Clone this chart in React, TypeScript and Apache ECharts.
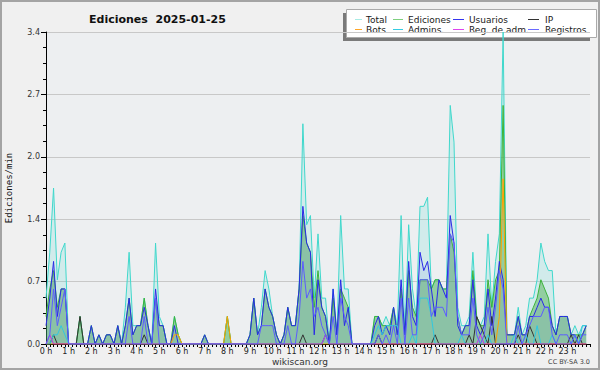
import React, { useEffect, useRef } from 'react';
import * as echarts from 'echarts';

// 10-minute buckets, edits per minute (144 points over 24 h)
const total = [
  0.5, 1.0, 1.7, 0.7, 1.0, 1.1,
  0, 0, 0, 0.3, 0, 0,
  0.2, 0, 0.1, 0, 0.1, 0.1,
  0, 0.2, 0, 0.4, 1.0, 0.2,
  0.2, 0.2, 0.5, 0.2, 0, 1.1,
  0.3, 0.2, 0, 0, 0.3, 0.1,
  0, 0, 0, 0, 0, 0,
  0.1, 0, 0, 0, 0, 0,
  0.3, 0, 0, 0, 0, 0,
  0.1, 0.5, 0.1, 0.4, 0.8, 0.6,
  0.3, 0.1, 0, 0.1, 0.4, 0.2,
  0.2, 0.6, 2.4, 1.3, 1.4, 0.5,
  1.2, 0.5, 0.5, 0, 0.6, 0.1,
  1.4, 0.6, 0.6, 0, 0, 0,
  0, 0, 0, 0.3, 0.3, 0.2,
  0.3, 0.2, 0.4, 0.2, 1.4, 0.1,
  1.3, 0.6, 0.3, 1.5, 1.5, 1.6,
  0.6, 0.7, 0.7, 0.6, 0.6, 2.6,
  2.2, 0.4, 0.2, 0.2, 0.3, 1.0,
  0.3, 0.2, 0.3, 1.2, 0.4, 0.9,
  1.2, 3.4, 0.1, 0.1, 0.1, 0.4,
  0.1, 0.2, 0.5, 0.5, 0.7, 1.1,
  0.9, 0.8, 0.8, 0.1, 0.3, 0.3,
  0.3, 0.1, 0.2, 0.1, 0.2, 0.2,
];
const ediciones = [
  0.3, 0.6, 0.8, 0.4, 0.6, 0.6,
  0, 0, 0, 0.3, 0, 0,
  0.2, 0, 0.1, 0, 0.1, 0.1,
  0, 0.2, 0, 0.2, 0.5, 0.1,
  0.2, 0.2, 0.5, 0.2, 0, 0.5,
  0.2, 0.2, 0, 0, 0.3, 0.1,
  0, 0, 0, 0, 0, 0,
  0.1, 0, 0, 0, 0, 0,
  0.3, 0, 0, 0, 0, 0,
  0.1, 0.5, 0.1, 0.2, 0.6, 0.4,
  0.3, 0.1, 0, 0.1, 0.4, 0.2,
  0.2, 0.6, 1.4, 1.1, 1.0, 0.4,
  0.8, 0.4, 0.3, 0, 0.5, 0.1,
  0.6, 0.5, 0.4, 0, 0, 0,
  0, 0, 0, 0.3, 0.3, 0.2,
  0.2, 0.2, 0.4, 0.1, 0.6, 0.1,
  0.8, 0.4, 0.3, 0.7, 0.7, 0.7,
  0.6, 0.7, 0.7, 0.6, 0.6, 1.2,
  1.0, 0.3, 0.1, 0.2, 0.2, 0.8,
  0.3, 0.2, 0.2, 0.7, 0.4, 0.7,
  0.8, 2.6, 0.1, 0.1, 0.1, 0.3,
  0.1, 0.1, 0.3, 0.4, 0.5, 0.7,
  0.6, 0.5, 0.2, 0.1, 0.3, 0.3,
  0.3, 0.1, 0.1, 0.1, 0.1, 0.2,
];
const usuarios = [
  0.2, 0.5, 0.9, 0.3, 0.6, 0.6,
  0, 0, 0, 0, 0, 0,
  0.2, 0, 0.1, 0, 0.1, 0.1,
  0, 0.2, 0, 0.2, 0.5, 0.1,
  0.2, 0.2, 0.4, 0.2, 0, 0.6,
  0.2, 0.2, 0, 0, 0.2, 0,
  0, 0, 0, 0, 0, 0,
  0.1, 0, 0, 0, 0, 0,
  0, 0, 0, 0, 0, 0,
  0.1, 0.5, 0.1, 0.2, 0.6, 0.4,
  0.3, 0.1, 0, 0.1, 0.4, 0.2,
  0.2, 0.6, 1.5, 1.1, 1.0, 0.1,
  0.7, 0.4, 0.3, 0, 0.6, 0.1,
  0.7, 0.2, 0.4, 0, 0, 0,
  0, 0, 0, 0.2, 0.3, 0.1,
  0.2, 0.1, 0.4, 0.1, 0.7, 0.1,
  0.9, 0.3, 0.2, 1.0, 0.8, 0.9,
  0.6, 0.3, 0.7, 0.6, 0.5, 1.4,
  1.1, 0.2, 0.1, 0.2, 0.2, 0.7,
  0.2, 0.1, 0.2, 0.6, 0.2, 0.5,
  0.9, 0.7, 0.1, 0.1, 0.1, 0.3,
  0.1, 0.1, 0.3, 0.3, 0.4, 0.5,
  0.4, 0.4, 0.2, 0.1, 0.3, 0.3,
  0.3, 0.1, 0.1, 0, 0.1, 0.2,
];
const ip = [
  0, 0, 0.1, 0, 0, 0,
  0, 0, 0, 0.3, 0, 0,
  0, 0, 0, 0, 0, 0,
  0, 0, 0, 0, 0, 0,
  0, 0, 0.1, 0, 0, 0,
  0, 0, 0, 0, 0, 0,
  0, 0, 0, 0, 0, 0,
  0, 0, 0, 0, 0, 0,
  0, 0, 0, 0, 0, 0,
  0, 0, 0, 0, 0, 0,
  0, 0, 0, 0, 0, 0,
  0, 0, 0.1, 0, 0, 0,
  0, 0, 0.1, 0, 0, 0,
  0, 0, 0, 0, 0, 0,
  0, 0, 0, 0, 0.1, 0,
  0, 0, 0, 0, 0, 0,
  0, 0, 0, 0, 0, 0,
  0, 0.1, 0, 0, 0, 0,
  0, 0, 0, 0, 0.1, 0,
  0.3, 0.2, 0.1, 0, 0.3, 0,
  0, 0, 0, 0, 0, 0.1,
  0, 0, 0.2, 0.1, 0, 0,
  0, 0, 0, 0, 0, 0,
  0, 0.1, 0, 0.1, 0, 0,
];
const bots = [
  0, 0, 0, 0, 0, 0,
  0, 0, 0, 0, 0, 0,
  0, 0, 0, 0, 0, 0,
  0, 0, 0, 0, 0, 0,
  0, 0, 0, 0, 0, 0,
  0, 0, 0, 0, 0.1, 0.1,
  0, 0, 0, 0, 0, 0,
  0, 0, 0, 0, 0, 0,
  0.3, 0, 0, 0, 0, 0,
  0, 0, 0, 0, 0, 0,
  0, 0, 0, 0, 0, 0,
  0, 0, 0, 0, 0, 0,
  0, 0, 0, 0, 0, 0,
  0, 0, 0, 0, 0, 0,
  0, 0, 0, 0, 0, 0,
  0, 0, 0, 0, 0, 0,
  0, 0, 0, 0, 0, 0,
  0, 0, 0, 0, 0, 0,
  0, 0, 0, 0, 0, 0,
  0, 0, 0, 0, 0, 0,
  0.3, 1.8, 0, 0, 0, 0,
  0, 0, 0, 0, 0, 0,
  0, 0, 0, 0, 0, 0,
  0, 0, 0, 0, 0, 0,
];
const admins = [
  0, 0, 0.1, 0.1, 0.2, 0.1,
  0, 0, 0, 0, 0, 0,
  0, 0, 0, 0, 0, 0,
  0, 0, 0, 0, 0, 0,
  0, 0, 0, 0, 0, 0,
  0, 0, 0, 0, 0, 0,
  0, 0, 0, 0, 0, 0,
  0, 0, 0, 0, 0, 0,
  0, 0, 0, 0, 0, 0,
  0, 0, 0, 0, 0, 0,
  0, 0, 0, 0, 0, 0,
  0, 0, 0, 0, 0, 0,
  0, 0, 0.1, 0, 0, 0,
  0, 0, 0, 0, 0, 0,
  0, 0, 0, 0.1, 0.2, 0.1,
  0.2, 0.2, 0.2, 0.2, 0, 0,
  0, 0.1, 0, 0.5, 0.5, 0.5,
  0.3, 0, 0, 0, 0, 0,
  0, 0, 0.1, 0, 0, 0,
  0, 0, 0, 0.1, 0, 0,
  0, 0, 0, 0, 0.1, 0,
  0, 0.1, 0, 0, 0.2, 0,
  0, 0, 0.1, 0, 0, 0,
  0, 0, 0.1, 0, 0.2, 0.2,
];
const regAdm = [
  0, 0.1, 0, 0, 0, 0,
  0, 0, 0, 0, 0, 0,
  0, 0, 0, 0, 0, 0,
  0, 0, 0, 0, 0, 0,
  0, 0, 0, 0, 0, 0,
  0, 0, 0, 0, 0, 0,
  0, 0, 0, 0, 0, 0,
  0, 0, 0, 0, 0, 0,
  0, 0, 0, 0, 0, 0,
  0, 0, 0, 0, 0, 0,
  0, 0, 0, 0, 0, 0,
  0, 0, 0, 0, 0, 0,
  0, 0, 0.1, 0, 0, 0,
  0, 0, 0, 0, 0, 0,
  0, 0, 0, 0, 0, 0,
  0, 0, 0, 0, 0, 0,
  0, 0, 0, 0, 0, 0,
  0, 0, 0, 0, 0, 0,
  0, 0, 0, 0, 0, 0,
  0, 0.1, 0, 0, 0, 0,
  0, 0, 0, 0, 0, 0,
  0, 0, 0, 0, 0, 0,
  0, 0, 0, 0, 0, 0,
  0, 0, 0, 0, 0, 0,
];
const registros = [
  0, 0.1, 0.6, 0.2, 0.4, 0.6,
  0, 0, 0, 0, 0, 0,
  0, 0, 0, 0, 0, 0,
  0, 0, 0, 0, 0.3, 0,
  0, 0, 0.3, 0, 0, 0.5,
  0, 0, 0, 0, 0, 0,
  0, 0, 0, 0, 0, 0,
  0, 0, 0, 0, 0, 0,
  0, 0, 0, 0, 0, 0,
  0, 0, 0, 0.2, 0.2, 0.2,
  0.2, 0, 0, 0, 0.2, 0,
  0, 0.3, 0.9, 0.5, 0.6, 0.3,
  0.4, 0.2, 0.1, 0, 0.3, 0,
  0.5, 0.3, 0.2, 0, 0, 0,
  0, 0, 0, 0, 0.1, 0,
  0.1, 0, 0.2, 0, 0.5, 0,
  0.5, 0.1, 0.1, 0.7, 0.7, 0.7,
  0.3, 0.4, 0.4, 0.4, 0.3, 1.2,
  1.1, 0.3, 0.1, 0.1, 0.1, 0.5,
  0.1, 0, 0.1, 0.4, 0.1, 0.4,
  0.8, 0.6, 0, 0, 0, 0.2,
  0, 0.1, 0.2, 0.3, 0.3, 0.3,
  0.4, 0.4, 0.1, 0, 0.1, 0.1,
  0.1, 0, 0.1, 0, 0.1, 0.1,
];

const legendRows = [
  ['Total', 'Ediciones', 'Usuarios', 'IP'],
  ['Bots', 'Admins.', 'Reg. de adm.', 'Registros'],
];
const legendColors: Record<string, string> = {
  'Total': '#a8ebe4',
  'Ediciones': '#7fd07f',
  'Usuarios': '#3535ee',
  'IP': '#333333',
  'Bots': '#ffa628',
  'Admins.': '#34cce2',
  'Reg. de adm.': '#dd44ee',
  'Registros': '#6a6aff',
};

const toPts = (arr: number[]) => arr.map((v, i) => [i / 6, v]);

export default function App() {
  const ref = useRef<HTMLDivElement>(null);
  useEffect(() => {
    document.body.style.margin = '0';
    if (!ref.current) return;
    const chart = echarts.init(ref.current, undefined, { renderer: 'svg' });
    const font = 'DejaVu Sans';
    const iconX = [355, 393, 453, 528];
    const iconW = [7, 10, 11, 11];
    const textX = [366, 408, 469, 545];
    const rowY = [19.5, 29.5];
    const legendEls: any[] = [
      { type: 'rect', shape: { x: 343, y: 13, width: 247, height: 28 }, style: { fill: '#7a7a7a' }, silent: true },
      { type: 'rect', shape: { x: 346.5, y: 9.5, width: 250, height: 28 }, style: { fill: '#ffffff', stroke: '#aaaaaa', lineWidth: 1 }, silent: true },
    ];
    legendRows.forEach((row, r) => {
      row.forEach((name, c) => {
        legendEls.push({
          type: 'line',
          shape: { x1: iconX[c], y1: rowY[r], x2: iconX[c] + iconW[c], y2: rowY[r] },
          style: { stroke: legendColors[name], lineWidth: 1 },
          silent: true,
        });
        legendEls.push({
          type: 'text',
          x: textX[c],
          y: rowY[r],
          style: { text: name, fontFamily: font, fontSize: 9, fill: '#1a1a1a', verticalAlign: 'middle', align: 'left' },
          silent: true,
        });
      });
    });

    const line = (name: string, arr: number[], color: string, area?: string, z = 2) => ({
      name,
      type: 'line',
      data: toPts(arr),
      symbol: 'none',
      showSymbol: false,
      lineStyle: { color, width: 1 },
      itemStyle: { color },
      areaStyle: area ? { color: area, opacity: 1 } : undefined,
      z,
    });

    chart.setOption({
      animation: false,
      backgroundColor: '#f0f0f0',
      title: {
        text: 'Ediciones  2025-01-25',
        left: 84,
        top: 9,
        textStyle: { fontFamily: font, fontSize: 11, fontWeight: 'bold', color: '#111' },
      },
      grid: {
        left: 46, right: 10, top: 32, bottom: 26,
        containLabel: false,
        outerBoundsMode: 'none',
        show: true, backgroundColor: '#edeff1', borderWidth: 0,
      },
      xAxis: {
        type: 'value', min: 0, max: 24, interval: 1,
        axisLine: { lineStyle: { color: '#000', width: 1 } },
        axisTick: { show: true, length: 3, lineStyle: { color: '#000' } },
        minorTick: { show: true, splitNumber: 6, length: 3, lineStyle: { color: '#000' } },
        splitLine: { show: false },
        axisLabel: {
          formatter: (v: number) => (v >= 24 ? '' : `${v} h`),
          fontFamily: font, fontSize: 8, color: '#222', margin: 3,
        },
      },
      yAxis: {
        type: 'value', min: 0, max: 3.4, interval: 0.68,
        name: 'Ediciones/min', nameLocation: 'middle', nameGap: 33,
        nameTextStyle: { fontFamily: 'DejaVu Sans Mono', fontSize: 9, color: '#111' },
        axisLine: { show: true, lineStyle: { color: '#000', width: 1 } },
        axisTick: { show: true, length: 5, lineStyle: { color: '#000' } },
        minorTick: { show: true, splitNumber: 4, length: 3, lineStyle: { color: '#000' } },
        splitLine: { show: true, lineStyle: { color: '#c8c8c8', width: 1 } },
        axisLabel: {
          formatter: (v: number) => v.toFixed(1),
          fontFamily: font, fontSize: 8, color: '#333', margin: 6,
        },
      },
      graphic: [
        { type: 'rect', shape: { x: 1, y: 1, width: 598, height: 368 }, style: { fill: 'none', stroke: '#a4a4a4', lineWidth: 2 }, silent: true },
        {
          type: 'text', x: 300, y: 362,
          style: { text: 'wikiscan.org', fontFamily: font, fontSize: 9, fill: '#333', align: 'center', verticalAlign: 'middle' },
          silent: true,
        },
        {
          type: 'text', x: 590, y: 362,
          style: { text: 'CC BY-SA 3.0', fontFamily: font, fontSize: 6.5, fill: '#444', align: 'right', verticalAlign: 'middle' },
          silent: true,
        },
        ...legendEls,
      ],
      series: [
        line('Total', total, '#40d8cc', 'rgba(64,216,204,0.16)', 2),
        line('Ediciones', ediciones, '#3cb43c', 'rgba(60,168,60,0.42)', 3),
        line('Usuarios', usuarios, '#2a2ae6', 'rgba(60,60,230,0.08)', 4),
        line('IP', ip, '#333333', undefined, 5),
        line('Bots', bots, '#ffa000', undefined, 5),
        line('Admins.', admins, '#30c8e0', undefined, 5),
        line('Reg. de adm.', regAdm, '#cc33dd', undefined, 5),
        line('Registros', registros, '#5c5cff', undefined, 5),
      ],
    });
    return () => chart.dispose();
  }, []);
  return <div ref={ref} style={{ width: 600, height: 370 }} />;
}
